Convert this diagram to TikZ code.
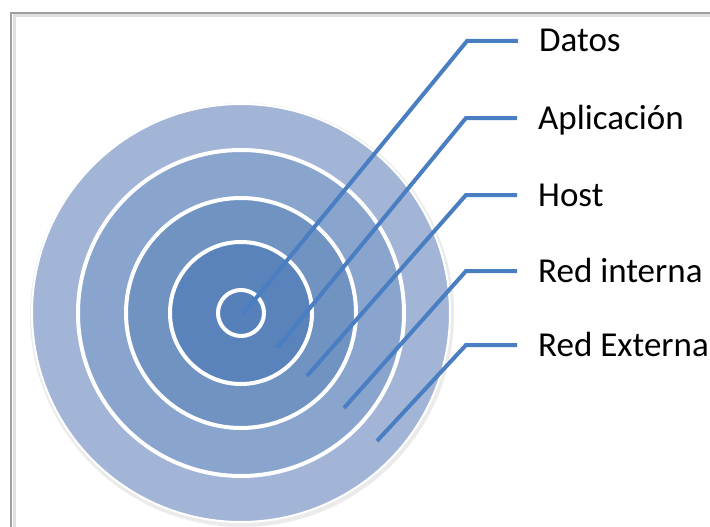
\documentclass[tikz,border=0pt]{standalone}
\usepackage{fontspec}
\setmainfont{Carlito}
\definecolor{leadblue}{HTML}{4A7EC2}
\definecolor{ringE}{HTML}{A2B5D6}
\definecolor{ringI}{HTML}{89A4CD}
\definecolor{ringH}{HTML}{7093C2}
\definecolor{ringA}{HTML}{5A83BB}
\definecolor{ringD}{HTML}{5580B9}
\begin{document}
\begin{tikzpicture}[x=1pt,y=-1pt,
  ring/.style={draw=white,line width=4pt},
  lead/.style={leadblue,line width=4pt},
  lbl/.style={anchor=west,inner sep=0pt,text height=22pt,text depth=0pt,font=\fontsize{35}{40}\selectfont}]
\useasboundingbox (0,0) rectangle (710,527);
\fill[white] (0,0) rectangle (710,527);
\draw[gray!25,line width=3pt] (14,527) -- (14,16) -- (710,16);
\draw[gray!75,line width=2.5pt] (11,527) -- (11,13) -- (710,13);
\coordinate (c) at (241,313);
\fill[black!8] ([shift={(1,2)}]c) circle (212);
\filldraw[fill=ringE,draw=white,line width=2pt] (c) circle (209);
\filldraw[fill=ringI,ring] (c) circle (163);
\filldraw[fill=ringH,ring] (c) circle (115);
\filldraw[fill=ringA,ring] (c) circle (71);
\filldraw[fill=ringD,ring] (c) circle (23);
\node[lbl] (datos) at (539,41) {Datos};
\node[lbl] (aplic) at (538,118) {Aplicación};
\node[lbl] (host) at (538,195) {Host};
\node[lbl] (redint) at (538,271) {Red interna};
\node[lbl] (redext) at (538,345) {Red Externa};
\coordinate (pdatos) at (243,314);
\coordinate (paplic) at (277,348);
\coordinate (phost) at (307,376);
\coordinate (predint) at (344,408);
\coordinate (predext) at (377,441);
\draw[lead] ([xshift=-21pt]datos.west) -- ++(-51,0) -- (pdatos);
\draw[lead] ([xshift=-21pt]aplic.west) -- ++(-51,0) -- (paplic);
\draw[lead] ([xshift=-21pt]host.west) -- ++(-51,0) -- (phost);
\draw[lead] ([xshift=-21pt]redint.west) -- ++(-51,0) -- (predint);
\draw[lead] ([xshift=-21pt]redext.west) -- ++(-51,0) -- (predext);
\end{tikzpicture}
\end{document}
